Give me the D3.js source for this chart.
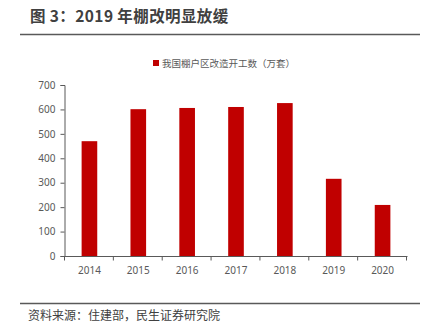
<!DOCTYPE html>
<html>
<head>
<meta charset="utf-8">
<script src="https://cdn.jsdelivr.net/npm/d3@7"></script>
<style>
  html, body { margin: 0; padding: 0; background: #fff; }
  svg { display: block; font-family: "Microsoft YaHei", "Noto Sans CJK SC", sans-serif; }
</style>
</head>
<body>
<svg id="chart" width="433" height="332"></svg>
<script>
// 棚户区改造开工数（万套）
const years = ["2014", "2015", "2016", "2017", "2018", "2019", "2020"];
const starts = [470, 601, 606, 610, 626, 316, 209];
const yTicks = [0, 100, 200, 300, 400, 500, 600, 700];

const titleText = "图 3：2019 年棚改明显放缓";
const legendText = "我国棚户区改造开工数（万套）";
const sourceText = "资料来源：住建部，民生证券研究院";

const svg = d3.select("#chart");
const barColor = "#C00000";
const textColor = "#595959";

// Title and rules
svg.append("text")
  .attr("x", 30).attr("y", 22)
  .attr("font-size", 15.5).attr("font-weight", "bold")
  .attr("letter-spacing", 0.4)
  .attr("fill", "#404040")
  .text(titleText);
svg.append("line")
  .attr("x1", 20).attr("x2", 420).attr("y1", 34.5).attr("y2", 34.5)
  .attr("stroke", "#595959").attr("stroke-width", 1.5);
svg.append("line")
  .attr("x1", 20).attr("x2", 420).attr("y1", 303.5).attr("y2", 303.5)
  .attr("stroke", "#595959").attr("stroke-width", 1.5);
svg.append("text")
  .attr("x", 28).attr("y", 320)
  .attr("font-size", 12).attr("fill", "#404040")
  .text(sourceText);

// Legend
svg.append("rect")
  .attr("x", 153).attr("y", 60).attr("width", 6).attr("height", 6)
  .attr("fill", barColor);
svg.append("text")
  .attr("x", 162).attr("y", 66.5)
  .attr("font-size", 9.5).attr("fill", textColor)
  .text(legendText);

// Scales
const x = d3.scaleBand().domain(years).range([65, 407]).paddingInner(0.68).paddingOuter(0.34);
const y = d3.scaleLinear().domain([0, 700]).range([256, 85]);

// Bars
svg.append("g").selectAll("rect")
  .data(years.map((yr, i) => ({ yr, v: starts[i] })))
  .join("rect")
  .attr("x", d => x(d.yr))
  .attr("width", x.bandwidth())
  .attr("y", d => y(d.v))
  .attr("height", d => y(0) - y(d.v))
  .attr("fill", barColor);

// Y axis
const yAxis = svg.append("g")
  .attr("transform", "translate(64.5,0)")
  .call(d3.axisLeft(y).tickValues(yTicks).tickSize(4).tickPadding(5));
yAxis.select(".domain").attr("stroke", "#595959");
yAxis.selectAll(".tick line").attr("stroke", "#595959");
yAxis.selectAll("text").attr("font-size", 10).attr("fill", textColor)
  .attr("font-family", "Noto Sans, sans-serif");

// X axis with ticks between categories
const xAxisG = svg.append("g").attr("transform", "translate(0,256.5)");
xAxisG.append("line")
  .attr("x1", 64.5).attr("x2", 407.5)
  .attr("stroke", "#595959");
const step = x.step();
const boundaries = d3.range(years.length + 1).map(i => 64.5 + i * step);
xAxisG.selectAll(".bt").data(boundaries).join("line")
  .attr("x1", d => d).attr("x2", d => d).attr("y1", 0).attr("y2", 4)
  .attr("stroke", "#595959");
xAxisG.selectAll(".lbl").data(years).join("text")
  .attr("x", d => x(d) + x.bandwidth() / 2)
  .attr("y", 17)
  .attr("text-anchor", "middle")
  .attr("font-size", 10).attr("fill", textColor)
  .attr("font-family", "Noto Sans, sans-serif")
  .text(d => d);
</script>
</body>
</html>
